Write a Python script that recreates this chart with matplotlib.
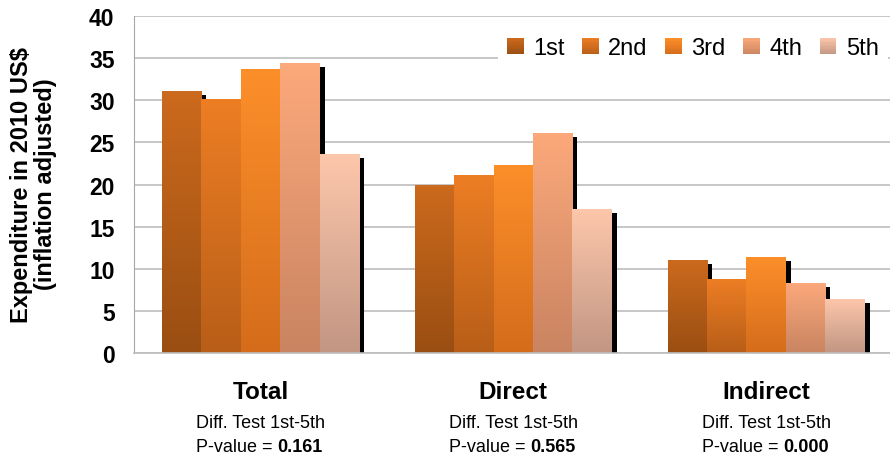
import numpy as np
import matplotlib
matplotlib.use('Agg')
import matplotlib.pyplot as plt
import matplotlib.transforms as mtransforms
from matplotlib.colors import LinearSegmentedColormap
from matplotlib.legend_handler import HandlerBase
from matplotlib.patches import Rectangle, Patch

plt.rcParams['font.family'] = ['Liberation Sans', 'DejaVu Sans']

categories = ['Total', 'Direct', 'Indirect']
quintiles = ['1st', '2nd', '3rd', '4th', '5th']
p_values = ['0.161', '0.565', '0.000']
spending = {
    '1st': [31.1, 20.0, 11.1],
    '2nd': [30.1, 21.1, 8.8],
    '3rd': [33.7, 22.3, 11.4],
    '4th': [34.4, 26.1, 8.3],
    '5th': [23.6, 17.1, 6.4],
}
# top / bottom colours of the vertical gradient in each bar
top_colors = ['#CC6A1D', '#ED7E24', '#FD8F2A', '#FCA97B', '#FDC7AB']
bottom_colors = ['#9A4E12', '#B85E18', '#D46C1B', '#C98461', '#C29683']


class GradientSquare(HandlerBase):
    def __init__(self, top, bottom, steps=12):
        super().__init__()
        self.top = np.array(matplotlib.colors.to_rgb(top))
        self.bottom = np.array(matplotlib.colors.to_rgb(bottom))
        self.steps = steps

    def create_artists(self, legend, orig_handle, xdescent, ydescent,
                       width, height, fontsize, trans):
        out = []
        side = min(width, height)
        for k in range(self.steps):
            t = (k + 0.5) / self.steps
            c = self.bottom * (1 - t) + self.top * t
            out.append(Rectangle((-xdescent, -ydescent + k * side / self.steps),
                                 side, side / self.steps * 1.05,
                                 facecolor=c, edgecolor='none', transform=trans))
        return out


fig = plt.figure(figsize=(8.9, 4.56), dpi=100)
ax = fig.add_axes([0.1506, 0.2226, 0.8494, 0.7412])

x = np.arange(len(categories))
width = 0.156
shadow = mtransforms.offset_copy(ax.transData, fig=fig, x=5, y=-4, units='dots')

for i, q in enumerate(quintiles):
    pos = x + (i - 2) * width
    vals = spending[q]
    ax.bar(pos, vals, width, color='black', transform=shadow, zorder=2)
    bars = ax.bar(pos, vals, width, color=top_colors[i], linewidth=0, zorder=3)
    cmap = LinearSegmentedColormap.from_list(q, [bottom_colors[i], top_colors[i]])
    grad = np.linspace(0, 1, 128).reshape(-1, 1)
    for patch in bars:
        x0 = patch.get_x()
        im = ax.imshow(grad, extent=[x0, x0 + patch.get_width(), 0, patch.get_height()],
                       origin='lower', aspect='auto', cmap=cmap, zorder=4,
                       interpolation='bilinear')
        im.set_clip_path(patch)

ax.set_xlim(-0.5, 2.49)
ax.set_ylim(0, 40)
ax.set_yticks(range(0, 41, 5))
ax.set_xticks([])
ax.yaxis.grid(True, color='#BDBDBD', linewidth=1.2, zorder=0)
ax.set_axisbelow(True)
for side in ['top', 'right']:
    ax.spines[side].set_visible(False)
ax.spines['left'].set_color('#A6A6A6')
ax.spines['bottom'].set_color('#BDBDBD')
ax.spines['bottom'].set_linewidth(1.2)
ax.spines['bottom'].set_zorder(5)
ax.tick_params(axis='y', length=0, pad=14, labelsize=16.5)
for lab in ax.get_yticklabels():
    lab.set_fontweight('bold')

fig.text(0.038, 0.595, 'Expenditure in 2010 US$\n(inflation adjusted)',
         rotation=90, ha='center', va='center', fontsize=17,
         fontweight='bold', linespacing=1.05)

# category captions with the difference test underneath
for xi, cat, pv in zip(x, categories, p_values):
    xf = ax.transData.transform((xi, 0))[0] / fig.bbox.width
    fig.text(xf, 0.14, cat, ha='center', va='center', fontsize=17.5, fontweight='bold')
    diff = fig.text(xf, 0.071, 'Diff. Test 1st-5th', ha='center', va='center', fontsize=13)
    lead = ax.annotate('P-value = ', xy=(0, 0), xycoords=diff,
                       xytext=(0, -17.5), textcoords='offset points',
                       ha='left', va='bottom', fontsize=13, annotation_clip=False)
    ax.annotate(pv, xy=(1, 0), xycoords=lead, ha='left', va='bottom',
                fontsize=13, fontweight='bold', annotation_clip=False)

handles = [Patch(label=q) for q in quintiles]
handler_map = {h: GradientSquare(t, b) for h, t, b in zip(handles, top_colors, bottom_colors)}
leg = fig.legend(handles=handles, handler_map=handler_map, loc='upper right',
                 bbox_to_anchor=(0.998, 1 - 29 / 456), ncol=5, fontsize=17,
                 frameon=True, fancybox=False, framealpha=1, edgecolor='none',
                 handlelength=0.7, handleheight=0.7, handletextpad=0.4,
                 columnspacing=0.75, borderpad=0.4, borderaxespad=0)

fig.savefig('out.png', dpi=100)
